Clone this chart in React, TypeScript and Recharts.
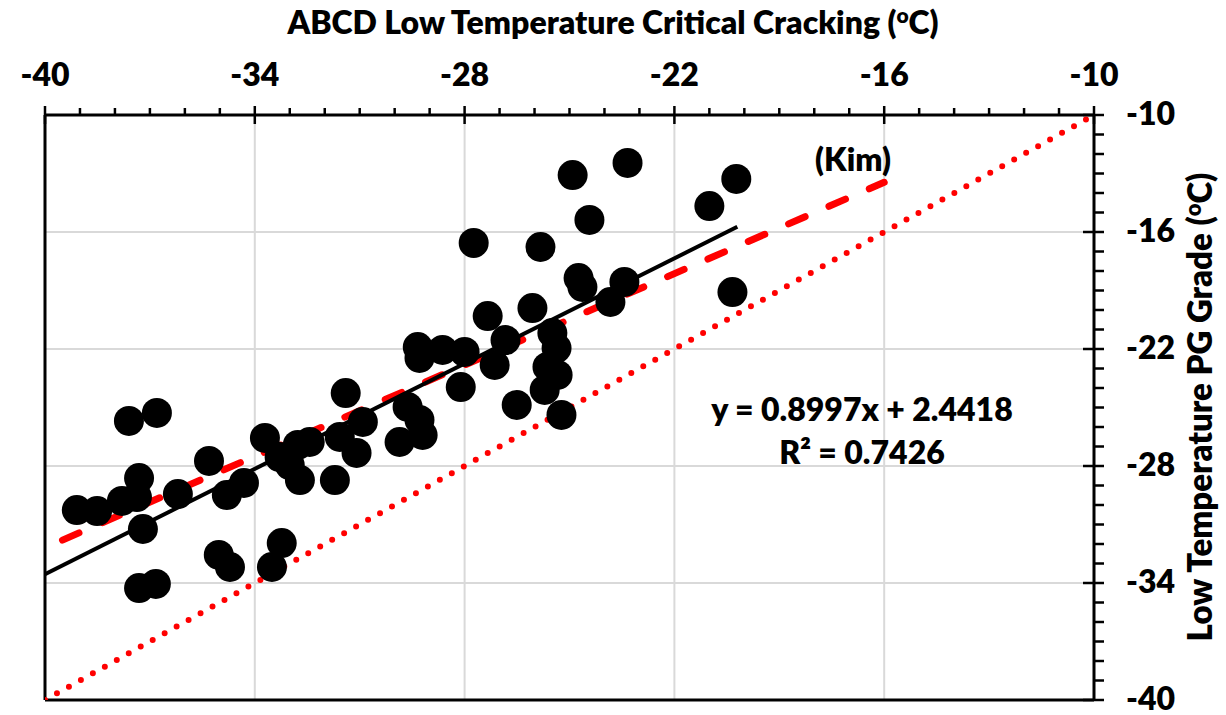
import React from 'react'
import { ScatterChart, Scatter, XAxis, YAxis, ReferenceLine } from 'recharts'

// ABCD critical cracking temperature (x) vs low temperature PG grade (y)
const ptX = [
  -39.09, -38.51, -37.8, -37.6, -36.8, -37.31, -37.37, -37.2, -36.2, -37.31,
  -36.83, -35.31, -34.8, -34.31, -35.03, -34.71, -33.71, -33.23, -33.51, -31.4,
  -33.29, -32.77, -32.43, -32.71, -31.71, -30.91, -31.09, -31.57, -29.63, -29.29,
  -29.2, -29.86, -28.11, -26.51, -27.74, -24.91, -23.34, -24.43, -25.83, -24.74,
  -24.63, -23.43, -23.83, -26.06, -27.34, -26.83, -29.34, -29.29, -28.63, -28.0,
  -27.14, -25.49, -25.37, -25.63, -25.34, -25.71, -25.23, -21.0, -20.23, -20.34,
  -33.0,
]
const ptY = [
  -30.26, -30.31, -29.79, -25.69, -25.28, -28.62, -29.59, -31.23, -29.44, -34.26,
  -34.05, -27.74, -29.49, -28.87, -32.56, -33.18, -26.56, -31.95, -33.18, -24.26,
  -27.54, -26.92, -26.77, -28.72, -28.72, -25.74, -27.33, -26.51, -24.97, -25.64,
  -26.41, -26.77, -23.95, -24.87, -16.56, -13.08, -12.46, -15.38, -16.77, -18.36,
  -18.82, -18.56, -19.59, -19.9, -20.31, -21.54, -21.9, -22.46, -22.05, -22.15,
  -22.82, -21.18, -21.95, -22.92, -23.33, -24.1, -25.38, -14.67, -13.28, -19.08,
  -27.95,
]

// linear trend y = 0.8997x + 2.4418
const fitSlope = 0.8997
const fitIntercept = 2.4418
const fitX = [-40, -20.2]

// Kim relation
const kimX = [-39.5, -16]
const kimY = [-31.8, -13.45]

// line of equality
const eqX = [-40, -10]
const eqY = [-40, -10]

const axisTicks = Array.from({ length: 31 }, (_, i) => -40 + i)
const majorTicks = [-40, -34, -28, -22, -16, -10]
const gridValues = [-34, -28, -22, -16]

const points = ptX.map((x, i) => ({ x, y: ptY[i] }))
const fitLine = fitX.map(x => ({ x, y: fitSlope * x + fitIntercept }))
const kimLine = kimX.map((x, i) => ({ x, y: kimY[i] }))
const eqLine = eqX.map((x, i) => ({ x, y: eqY[i] }))

const W = 1226
const H = 715
const PLOT_LEFT = 45
const PLOT_TOP = 115
const AXIS_W = 132
const PLOT_RIGHT = W - AXIS_W
const FONT = 'Lato, "Open Sans", sans-serif'
const FS = 32

function XTick(props: any) {
  const { x, payload } = props
  const major = majorTicks.includes(payload.value)
  return (
    <g>
      <line
        x1={x}
        x2={x}
        y1={PLOT_TOP - (major ? 9 : 7)}
        y2={PLOT_TOP + (major ? 9 : 0)}
        stroke="#000"
        strokeWidth={2.5}
      />
      {major && (
        <text x={x} y={86} textAnchor="middle" fontFamily={FONT} fontWeight={800} fontSize={FS} fill="#000">
          {payload.value}
        </text>
      )}
    </g>
  )
}

function YTick(props: any) {
  const { y, payload } = props
  const major = majorTicks.includes(payload.value)
  return (
    <g>
      <line
        x1={PLOT_RIGHT - (major ? 11 : 0)}
        x2={PLOT_RIGHT + 10}
        y1={y}
        y2={y}
        stroke="#000"
        strokeWidth={2.5}
      />
      {major && (
        <text x={1126} y={y} dy={10} textAnchor="start" fontFamily={FONT} fontWeight={800} fontSize={FS} fill="#000">
          {payload.value}
        </text>
      )}
    </g>
  )
}

const dot = (p: any) => <circle cx={p.cx} cy={p.cy} r={15} fill="#000" />
const noDot = () => <g />

export default function App() {
  return (
    <div style={{ position: 'absolute', left: 0, top: 0, width: W, height: H, background: '#fff' }}>
      <ScatterChart width={W} height={H} margin={{ top: 0, right: 0, bottom: 15, left: PLOT_LEFT }}>
        <XAxis
          type="number"
          dataKey="x"
          orientation="top"
          domain={[-40, -10]}
          ticks={axisTicks}
          interval={0}
          height={PLOT_TOP}
          tick={<XTick />}
          tickLine={false}
          axisLine={{ stroke: '#000', strokeWidth: 3 }}
          allowDataOverflow
        />
        <YAxis
          type="number"
          dataKey="y"
          orientation="right"
          domain={[-40, -10]}
          ticks={axisTicks}
          interval={0}
          width={AXIS_W}
          tick={<YTick />}
          tickLine={false}
          axisLine={{ stroke: '#000', strokeWidth: 3 }}
          allowDataOverflow
        />
        {gridValues.map(v => (
          <ReferenceLine key={'gx' + v} x={v} stroke="#d9d9d9" strokeWidth={2} />
        ))}
        {gridValues.map(v => (
          <ReferenceLine key={'gy' + v} y={v} stroke="#d9d9d9" strokeWidth={2} />
        ))}
        <ReferenceLine x={-40} stroke="#000" strokeWidth={3} />
        <ReferenceLine y={-40} stroke="#000" strokeWidth={3} />
        <Scatter
          data={eqLine}
          shape={noDot}
          line={{ stroke: '#ff0000', strokeWidth: 6, strokeDasharray: '0 13.7', strokeLinecap: 'round' }}
          isAnimationActive={false}
        />
        <Scatter
          data={kimLine}
          shape={noDot}
          line={{ stroke: '#ff0000', strokeWidth: 7, strokeDasharray: '18 26', strokeLinecap: 'round' }}
          isAnimationActive={false}
        />
        <Scatter
          data={fitLine}
          shape={noDot}
          line={{ stroke: '#000', strokeWidth: 4 }}
          isAnimationActive={false}
        />
        <Scatter data={points} shape={dot} isAnimationActive={false} />
      </ScatterChart>
      <svg
        width={W}
        height={H}
        style={{ position: 'absolute', left: 0, top: 0, pointerEvents: 'none' }}
        fontFamily={FONT}
        fontWeight={800}
        fill="#000"
      >
        <text x={613} y={34} textAnchor="middle" fontSize={FS}>
          ABCD Low Temperature Critical Cracking (<tspan fontSize={21} dy={-11}>o</tspan>
          <tspan dy={11}>C)</tspan>
        </text>
        <text x={1212} y={407} textAnchor="middle" fontSize={33} transform="rotate(-90 1212 407)">
          Low Temperature PG Grade (<tspan fontSize={22} dy={-11}>o</tspan>
          <tspan dy={11}>C)</tspan>
        </text>
        <text x={853} y={171} textAnchor="middle" fontSize={FS}>(Kim)</text>
        <text x={862} y={421} textAnchor="middle" fontSize={FS}>y = 0.8997x + 2.4418</text>
        <text x={862} y={464} textAnchor="middle" fontSize={FS}>R² = 0.7426</text>
      </svg>
    </div>
  )
}
